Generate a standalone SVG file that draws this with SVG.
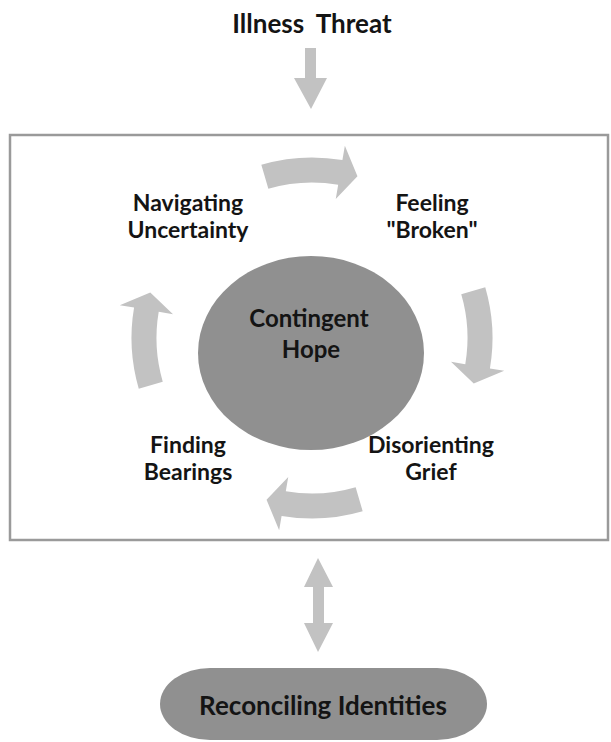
<svg xmlns="http://www.w3.org/2000/svg" width="611" height="742" viewBox="0 0 611 742">
<style>
text{font-family:Lato,"Open Sans","Liberation Sans",sans-serif;font-weight:700;fill:#141414;text-anchor:middle}
.lbl{font-size:23px}
.arr{fill:#c2c2c2}
</style>
<rect width="611" height="742" fill="#ffffff"/>
<g id="frame"><rect x="10" y="135" width="598" height="405" fill="#ffffff" stroke="#9a9a9a" stroke-width="2.5"/></g>
<g id="illness-threat"><text x="312" y="33" font-size="26" word-spacing="6">Illness Threat</text></g>
<g id="contingent-hope">
<ellipse cx="311" cy="353" rx="113" ry="97" fill="#909090"/>
<text x="309" y="327" font-size="24">Contingent</text>
<text x="311" y="358" font-size="24">Hope</text>
</g>
<g id="navigating-uncertainty"><text class="lbl" x="188" y="211">Navigating</text><text class="lbl" x="188" y="238">Uncertainty</text></g>
<g id="feeling-broken"><text class="lbl" x="432" y="211">Feeling</text><text class="lbl" x="432" y="238">"Broken"</text></g>
<g id="disorienting-grief"><text class="lbl" x="431" y="453">Disorienting</text><text class="lbl" x="431" y="480">Grief</text></g>
<g id="finding-bearings"><text class="lbl" x="188" y="453">Finding</text><text class="lbl" x="188" y="480">Bearings</text></g>
<g id="reconciling-identities">
<rect x="160" y="668" width="327" height="72" rx="50" ry="36" fill="#909090"/>
<text x="323" y="715" font-size="26">Reconciling Identities</text>
</g>
<g id="connectors">
<path class="arr" d="M305,48 H316 V78 H327 L311,109 L294,78 H305 Z"/>
<path class="arr" d="M318,558 L333,587 H324 V623 H333 L318,652 L304,623 H313 V587 H304 Z"/>
<path class="arr" d="M261.33,164.76 A180.5,180.5 0 0 1 342.41,160.08 L344.86,145.79 L357.46,176.27 L335.76,199.02 L338.20,184.72 A155.5,155.5 0 0 0 268.35,188.75 Z"/>
<path class="arr" d="M485.24,287.33 A180.5,180.5 0 0 1 489.92,368.41 L504.21,370.86 L473.73,383.46 L450.98,361.76 L465.28,364.20 A155.5,155.5 0 0 0 461.25,294.35 Z"/>
<path class="arr" d="M362.67,511.24 A180.5,180.5 0 0 1 281.59,515.92 L279.14,530.21 L266.54,499.73 L288.24,476.98 L285.80,491.28 A155.5,155.5 0 0 0 355.65,487.25 Z"/>
<path class="arr" d="M138.76,388.67 A180.5,180.5 0 0 1 134.08,307.59 L119.79,305.14 L150.27,292.54 L173.02,314.24 L158.72,311.80 A155.5,155.5 0 0 0 162.75,381.65 Z"/>
</g>
</svg>
